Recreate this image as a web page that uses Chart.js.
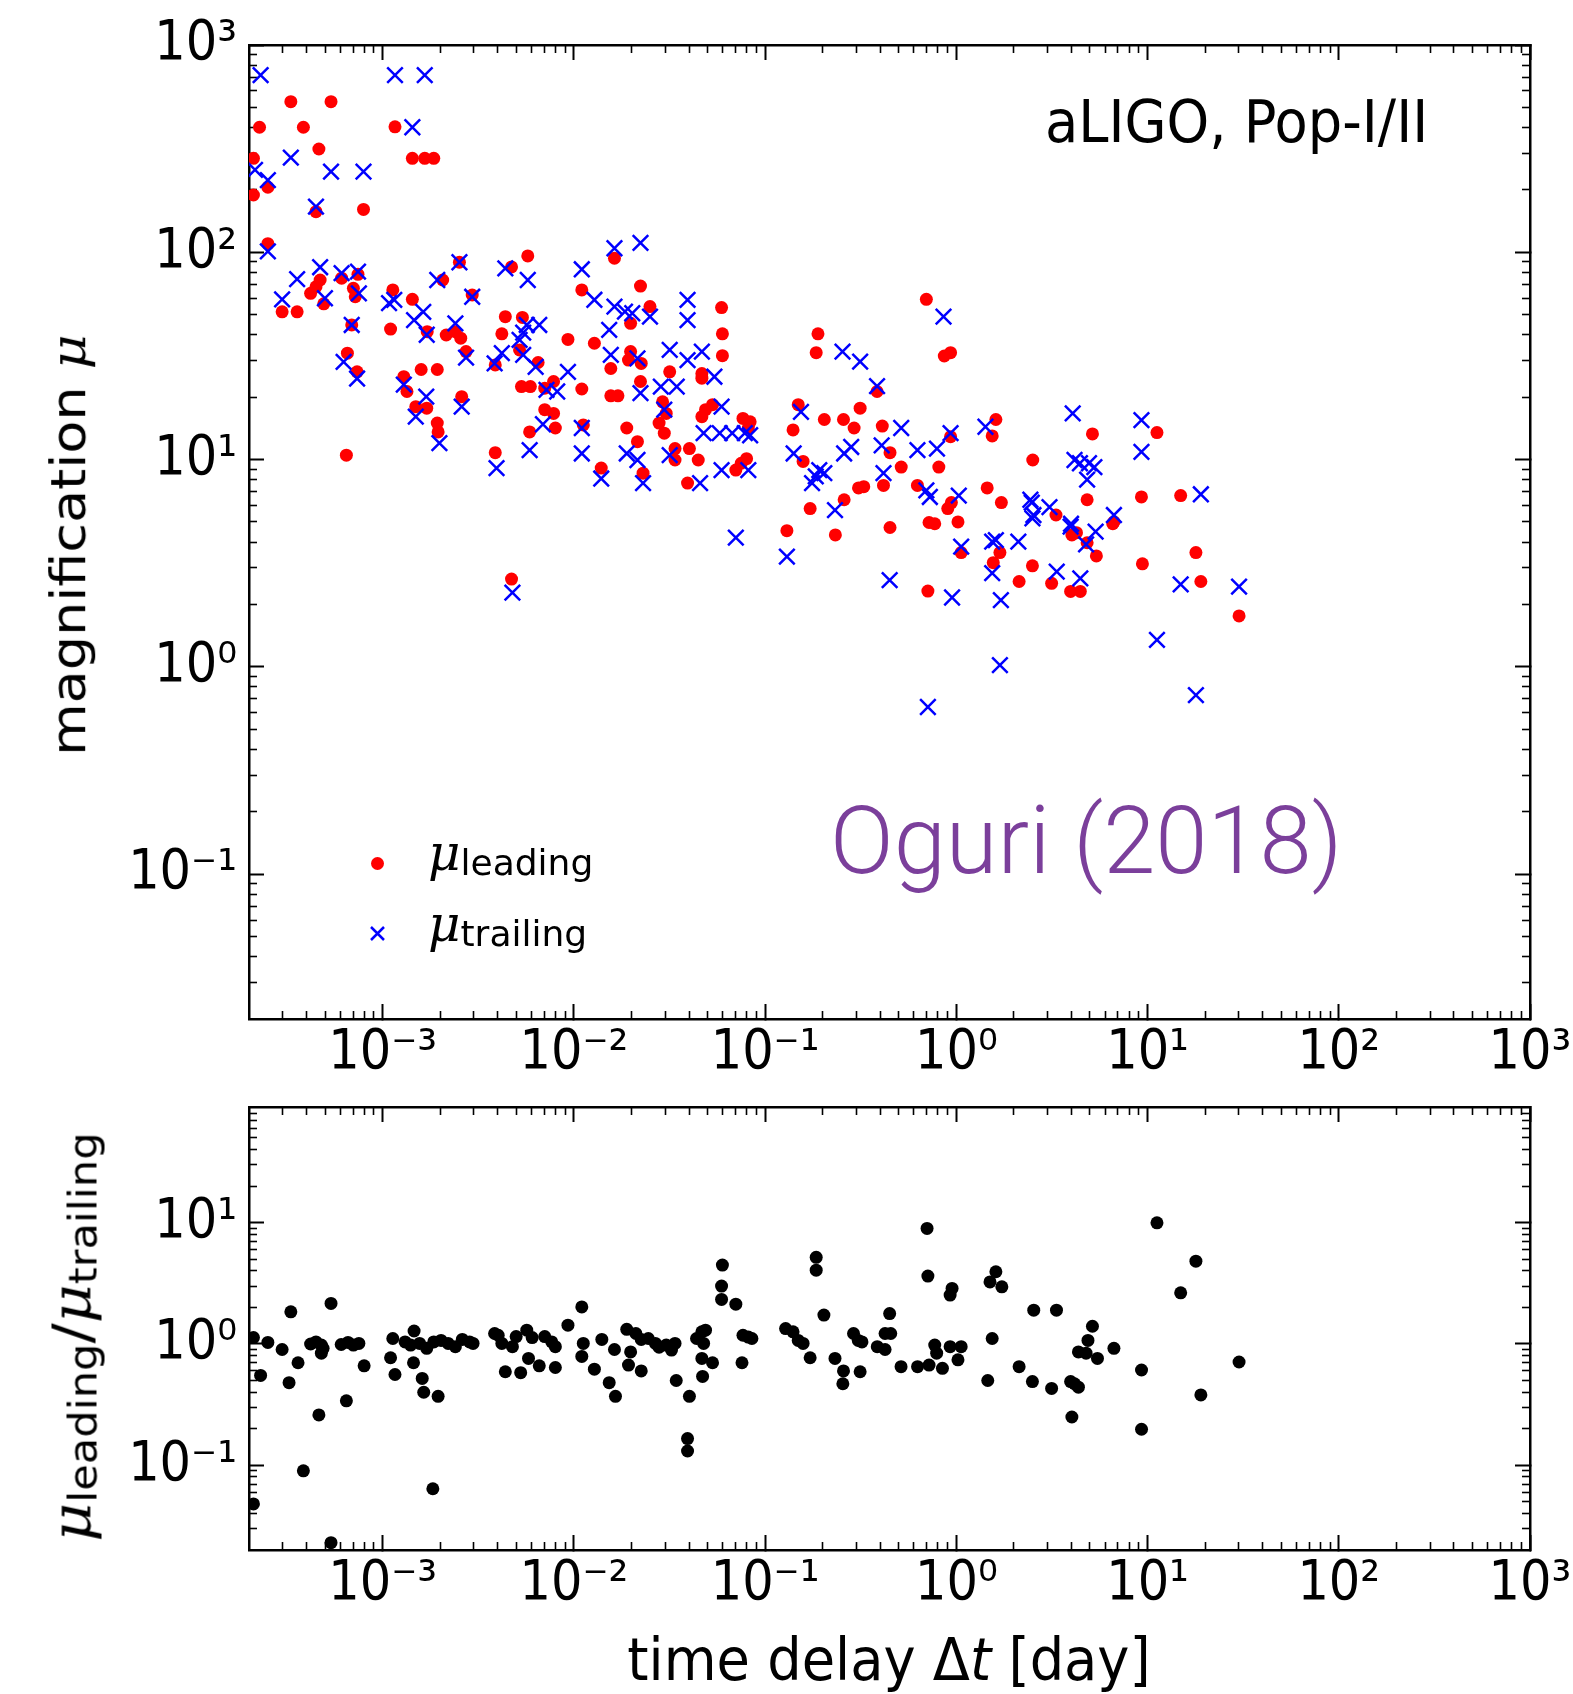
<!DOCTYPE html>
<html>
<head>
<meta charset="utf-8">
<title>magnification vs time delay</title>
<script src="https://cdn.jsdelivr.net/npm/chart.js@4.4.1/dist/chart.umd.min.js"></script>
<style>
  html, body { margin: 0; padding: 0; background: #fff; }
  #page { position: relative; width: 1573px; height: 1694px; overflow: hidden; font-family: 'DejaVu Sans', sans-serif; color: #000; }
  canvas { position: absolute; left: 0; }
  #cTop { top: 0; }
  #cBot { top: 1095px; }
  .txt { position: absolute; white-space: nowrap; line-height: 1; }
  .mu { font-family: 'DejaVu Serif', serif; font-style: italic; }
  .sub { font-family: 'DejaVu Sans', sans-serif; font-size: 0.72em; position: relative; top: 0.14em; }
  #tag { left: 1045px; top: 92px; font-size: 59px; transform: scaleX(0.92); transform-origin: left center; }
  #cite { left: 830px; top: 794px; font-family: Roboto, 'Open Sans', sans-serif; font-weight: 300; font-size: 94px; color: #7b3f9b; }
  .legRow { position: absolute; left: 428px; white-space: nowrap; line-height: 1; font-size: 50px; }
  .legMark { position: absolute; }
  .ylab { transform: translate(-50%, -50%) rotate(-90deg) scaleY(0.9); }
  #ylabTop { left: 69px; top: 545px; font-size: 54px; }
  #ylabBot { left: 72px; top: 1337px; font-size: 60px; }
  #xlab { left: 889px; top: 1630px; font-size: 59px; transform: translateX(-50%) scaleX(0.92); }
</style>
</head>
<body>
<div id="page">
  <canvas id="cTop" width="1573" height="1095"></canvas>
  <canvas id="cBot" width="1573" height="599"></canvas>

  <div class="txt" id="tag">aLIGO, Pop-I/II</div>
  <div class="txt" id="cite">Oguri (2018)</div>

  <svg class="legMark" style="left:370px; top:856px" width="15" height="15"><circle cx="7.5" cy="7.5" r="6.5" fill="#ff0000"/></svg>
  <div class="legRow" style="top:828px"><span class="mu">μ</span><span class="sub">leading</span></div>
  <svg class="legMark" style="left:369px; top:925px" width="17" height="17"><path d="M2 2 L15 15 M15 2 L2 15" stroke="#0000ff" stroke-width="2.5"/></svg>
  <div class="legRow" style="top:899px"><span class="mu">μ</span><span class="sub">trailing</span></div>

  <div class="txt ylab" id="ylabTop">magnification <span class="mu">μ</span></div>
  <div class="txt ylab" id="ylabBot"><span class="mu">μ</span><span class="sub">leading</span>/<span class="mu">μ</span><span class="sub">trailing</span></div>
  <div class="txt" id="xlab">time delay Δ<i>t</i> [day]</div>
</div>
<script>
// time delay (day) and magnification of the leading image
const leadDt = [2.27e-4, 2.11e-4, 2.51e-4, 2.11e-4, 3.31e-4, 5.37e-4, 3.85e-4, 4.64e-4, 1.16e-3, 1.43e-3,
  1.66e-3, 1.85e-3, 4.48e-4, 7.94e-4, 2.51e-4, 1.63e-2, 5.74e-3, 4.72e-3, 2.52e-3, 1.10e-2,
  2.23e-2, 2.50e-2, 1.98e-2, 5.92e-2, 5.98e-2, 5.98e-2, 1.98e-2, 1.93e-2, 2.25e-2, 1.56e-2,
  1.56e-2, 1.70e-2, 2.23e-2, 3.17e-2, 4.67e-2, 4.67e-2, 2.91e-2, 3.04e-2, 2.79e-2, 2.97e-2,
  1.89e-2, 2.15e-2, 2.30e-2, 3.38e-2, 4.02e-2, 3.38e-2, 4.47e-2, 3.93e-2, 4.67e-2, 4.88e-2,
  5.31e-2, 7.66e-2, 8.35e-2, 8.17e-2, 7.03e-2, 7.50e-2, 8.00e-2, 0.140, 0.149, 2.98e-4,
  3.57e-4, 4.71e-4, 4.48e-4, 4.20e-4, 4.92e-4, 6.10e-4, 7.43e-4, 7.03e-4, 7.19e-4, 6.89e-4,
  6.54e-4, 7.35e-4, 6.46e-4, 1.10e-3, 1.13e-3, 1.43e-3, 1.71e-3, 2.06e-3, 2.94e-3, 2.15e-3,
  2.40e-3, 2.56e-3, 2.73e-3, 1.29e-3, 1.34e-3, 1.59e-3, 1.93e-3, 1.49e-3, 1.70e-3, 1.93e-3,
  1.95e-3, 2.59e-3, 3.88e-3, 4.38e-3, 5.38e-3, 4.20e-3, 5.20e-3, 6.50e-3, 9.31e-3, 1.28e-2,
  1.10e-2, 5.32e-3, 5.92e-3, 7.04e-3, 7.83e-3, 7.04e-3, 7.83e-3, 8.0e-3, 5.87e-3, 3.88e-3,
  1.12e-2, 1.39e-2, 4.72e-3, 0.130, 0.697, 0.865, 0.933, 0.189, 0.185, 0.385,
  0.314, 0.204, 0.257, 0.292, 0.158, 0.410, 0.450, 0.515, 0.810, 0.933,
  0.172, 0.259, 0.308, 0.328, 0.416, 0.626, 0.942, 0.902, 1.45, 1.72,
  1.61, 1.54, 2.51, 5.15, 11.2, 4.83, 9.29, 14.9, 3.32, 6.67,
  17.9, 9.4, 19.0, 30.1, 0.71, 2.13, 3.15, 3.96, 4.45, 2.50,
  1.56, 1.69, 1.06, 1.02, 0.72, 0.771, 4.02, 4.25, 4.83, 5.40,
  6.58, 0.45, 0.233];
const leadMu = [401, 284, 206, 189, 533, 533, 401, 315, 403, 284,
  284, 284, 157, 161, 110, 93.6, 96, 85, 89.5, 65.8,
  68.7, 54.7, 45.4, 54.1, 40.4, 31.7, 33.2, 30.2, 29.1, 27.5,
  20.3, 20.3, 23.8, 26.5, 26, 24.7, 19, 16.7, 15, 13.4,
  14.2, 12.2, 8.6, 11.3, 11.3, 9.95, 9.95, 7.7, 16.1, 17.4,
  18.4, 15.8, 15.2, 14.2, 8.9, 9.6, 10.1, 13.9, 18.4, 51.6,
  51.6, 73.5, 68.2, 63.4, 56.4, 75, 78.3, 67, 61, 44.6,
  32.6, 26.5, 10.5, 42.6, 65.8, 59.3, 41.4, 73.5, 62.2, 39.9,
  41.4, 38.5, 33.2, 25.1, 21.3, 27.2, 27.2, 18, 17.7, 15,
  13.6, 20.1, 28.6, 48.9, 48.5, 40.4, 33.8, 29.4, 38, 36.4,
  21.9, 22.5, 22.5, 22.1, 23.8, 17.4, 16.7, 14.2, 13.6, 10.8,
  14.7, 9.1, 2.65, 4.54, 59.3, 31.6, 32.8, 40.4, 32.8, 21.3,
  17.7, 15.6, 15.6, 14.2, 9.8, 14.5, 10.8, 9.2, 9.2, 12.9,
  5.8, 6.4, 7.3, 7.4, 7.5, 7.5, 6.2, 5.8, 7.3, 6.2,
  15.6, 13, 9.95, 13.3, 13.5, 6.4, 6.6, 6.7, 5.4, 5.0,
  3.56, 3.14, 2.58, 1.76, 2.32, 2.58, 2.53, 2.31, 2.31, 3.07,
  3.18, 3.56, 3.56, 5.0, 4.97, 4.9, 4.33, 4.44, 3.97, 3.43,
  4.9, 4.7, 4.33];

// time delay (day) and magnification of the trailing image
const trailDt = [2.30e-4, 1.16e-3, 1.66e-3, 1.43e-3, 3.31e-4, 5.37e-4, 7.94e-4, 2.15e-4, 2.51e-4, 4.48e-4,
  2.51e-4, 1.63e-2, 2.23e-2, 4.38e-3, 5.74e-3, 2.52e-3, 1.10e-2, 1.28e-2, 1.63e-2, 1.85e-2,
  2.02e-2, 2.50e-2, 3.93e-2, 3.93e-2, 1.53e-2, 1.56e-2, 2.15e-2, 2.23e-2, 3.17e-2, 2.85e-2,
  3.45e-2, 3.93e-2, 4.67e-2, 5.43e-2, 2.97e-2, 1.89e-2, 2.15e-2, 2.30e-2, 3.17e-2, 4.57e-2,
  4.77e-2, 5.79e-2, 6.73e-2, 7.83e-2, 8.35e-2, 5.92e-2, 5.92e-2, 8.17e-2, 2.98e-4, 3.57e-4,
  4.71e-4, 4.99e-4, 6.10e-4, 7.43e-4, 7.51e-4, 6.89e-4, 6.25e-4, 7.35e-4, 1.08e-3, 1.15e-3,
  1.63e-3, 1.46e-3, 1.70e-3, 1.93e-3, 2.94e-3, 2.40e-3, 2.73e-3, 1.29e-3, 1.69e-3, 1.49e-3,
  1.98e-3, 2.59e-3, 3.85e-3, 4.20e-3, 5.43e-3, 5.67e-3, 6.59e-3, 5.20e-3, 5.43e-3, 6.31e-3,
  7.19e-3, 8.18e-3, 9.31e-3, 6.89e-3, 5.87e-3, 3.94e-3, 1.10e-2, 1.10e-2, 1.39e-2, 4.77e-3,
  7.03e-2, 0.130, 0.857, 0.254, 0.314, 0.385, 0.154, 0.141, 0.515, 0.407,
  0.626, 0.792, 0.933, 0.282, 0.259, 0.192, 0.204, 0.176, 0.184, 0.232,
  0.416, 0.697, 0.727, 1.03, 1.42, 4.06, 9.29, 9.29, 4.15, 4.43,
  4.94, 5.27, 4.83, 19.0, 2.48, 2.53, 3.07, 3.98, 6.67, 14.9,
  30.1, 11.2, 17.9, 1.69, 0.71, 0.448, 0.95, 1.71, 4.45, 3.35,
  1.54, 1.54, 1.61, 2.11, 1.06, 2.44, 2.50, 3.96, 5.35, 4.77];
const trailMu = [716, 716, 716, 401, 286, 245, 245, 250, 223, 166,
  101, 104.6, 111, 83.7, 73.5, 89.5, 82.8, 59, 54.7, 51.7,
  50.8, 48.9, 58.9, 47.1, 42.2, 32, 30.8, 20.9, 33.8, 22.5,
  22.5, 30.2, 33.2, 25.1, 17.4, 10.7, 9.95, 7.7, 10.5, 7.7,
  13.4, 13.4, 13.4, 13.4, 13.1, 18.0, 8.9, 8.9, 59.3, 74.2,
  84.7, 60, 79.3, 80.7, 63.4, 44.6, 29.6, 24.6, 56.8, 58.9,
  51.6, 47.1, 40, 73.5, 61, 45.4, 31, 23, 20.1, 16.1,
  12, 18, 29.1, 32.6, 41, 44.6, 44.6, 37.8, 32, 28,
  21.7, 21.3, 26.5, 14.8, 11.1, 9.1, 14.2, 10.7, 8.1, 2.28,
  4.2, 3.4, 48.9, 33.2, 29.7, 22.6, 17, 10.7, 14.2, 11.7,
  11.1, 11.3, 13.4, 11.5, 10.7, 8.9, 8.6, 7.7, 8.3, 5.7,
  8.6, 7.1, 6.6, 6.7, 14.4, 16.7, 15.5, 10.9, 9.95, 9.6,
  9.6, 9.2, 8.0, 6.8, 6.2, 5.4, 5.9, 4.9, 5.4, 2.5,
  2.44, 1.35, 0.73, 1.02, 0.64, 2.62, 2.16, 2.1, 2.67, 2.88,
  2.83, 4.02, 4.09, 4.02, 3.8, 6.4, 5.2, 4.75, 4.49, 3.9];

// time delay (day) and magnification ratio leading / trailing
const ratioDt = [2.11e-4, 2.51e-4, 2.98e-4, 3.31e-4, 3.61e-4, 3.24e-4, 2.30e-4, 3.85e-4, 2.11e-4, 4.20e-4,
  4.48e-4, 4.78e-4, 4.88e-4, 4.78e-4, 5.37e-4, 4.64e-4, 6.46e-4, 5.37e-4, 6.07e-4, 6.59e-4,
  7.03e-4, 7.51e-4, 8.0e-4, 1.13e-3, 1.10e-3, 1.16e-3, 1.46e-3, 1.31e-3, 1.40e-3, 1.56e-3,
  1.70e-3, 1.45e-3, 1.61e-3, 1.64e-3, 1.95e-3, 1.83e-3, 1.85e-3, 2.02e-3, 2.20e-3, 2.40e-3,
  2.61e-3, 2.85e-3, 2.97e-3, 3.85e-3, 4.20e-3, 4.02e-3, 4.77e-3, 4.99e-3, 5.67e-3, 6.05e-3,
  7.04e-3, 7.66e-3, 8.0e-3, 4.38e-3, 5.27e-3, 5.79e-3, 6.59e-3, 8.0e-3, 9.31e-3, 1.10e-2,
  1.12e-2, 1.10e-2, 1.28e-2, 1.40e-2, 1.63e-2, 1.53e-2, 1.65e-2, 1.89e-2, 2.11e-2, 2.25e-2,
  2.45e-2, 2.67e-2, 2.79e-2, 3.04e-2, 3.24e-2, 3.38e-2, 1.98e-2, 1.93e-2, 2.25e-2, 3.43e-2,
  4.02e-2, 3.93e-2, 3.93e-2, 4.38e-2, 4.67e-2, 4.77e-2, 4.88e-2, 4.67e-2, 5.31e-2, 4.71e-2,
  5.98e-2, 5.92e-2, 5.92e-2, 7.03e-2, 7.66e-2, 8.17e-2, 8.53e-2, 7.57e-2, 0.128, 0.140,
  0.149, 0.158, 0.172, 0.185, 0.185, 0.203, 0.232, 0.257, 0.255, 0.314,
  0.290, 0.307, 0.321, 0.448, 0.424, 0.454, 0.386, 0.424, 0.514, 0.627,
  0.72, 0.846, 0.771, 0.789, 0.928, 1.06, 1.02, 0.703, 0.71, 0.95,
  0.928, 1.54, 1.46, 1.61, 1.50, 1.73, 2.13, 2.50, 2.54, 3.34,
  3.15, 3.96, 4.35, 4.15, 4.02, 4.35, 4.88, 4.77, 5.47, 5.15,
  6.67, 9.30, 9.30, 11.2, 17.9, 14.9, 19.0, 30.1];
const ratioVal = [1.13, 1.03, 0.90, 1.84, 0.70, 0.48, 0.55, 0.090, 0.048, 1.0,
  1.04, 0.98, 0.92, 0.84, 2.16, 0.26, 0.34, 0.023, 0.99, 1.03,
  0.98, 1.01, 0.66, 1.11, 0.77, 0.56, 1.28, 1.04, 0.98, 1.01,
  0.92, 0.70, 0.52, 0.40, 0.37, 0.064, 1.04, 1.07, 1.01, 0.95,
  1.09, 1.04, 1.01, 1.22, 1.01, 1.18, 0.95, 1.15, 1.30, 1.13,
  1.15, 1.04, 0.95, 0.59, 0.58, 0.76, 0.66, 0.64, 1.43, 2.02,
  1.01, 0.79, 0.62, 1.09, 0.90, 0.48, 0.37, 1.32, 1.22, 1.09,
  1.11, 1.01, 0.94, 0.98, 0.89, 1.01, 0.86, 0.67, 0.60, 0.50,
  0.37, 0.166, 0.131, 1.11, 1.26, 1.01, 1.30, 0.76, 0.70, 0.54,
  4.47, 3.0, 2.33, 2.13, 1.18, 1.14, 1.11, 0.70, 1.34, 1.26,
  1.07, 1.01, 0.77, 5.18, 4.06, 1.73, 0.76, 0.60, 0.47, 0.59,
  1.22, 1.07, 1.04, 1.78, 1.22, 1.22, 0.95, 0.90, 0.65, 0.65,
  0.67, 0.63, 0.98, 0.84, 0.95, 0.95, 0.74, 8.97, 3.63, 2.87,
  2.53, 1.11, 0.50, 3.94, 3.25, 2.96, 0.65, 0.49, 1.90, 1.90,
  0.43, 0.49, 0.44, 0.47, 0.25, 0.86, 1.07, 0.84, 0.76, 1.40,
  0.92, 0.61, 0.198, 9.98, 4.82, 2.64, 0.38, 0.71];

// axis ranges and labelled ticks
const xRange = [2e-4, 1e3];
const muRange = [2e-2, 1e3];
const ratioRange = [2e-2, 90];
const xTickVals = [1e-3, 1e-2, 1e-1, 1, 10, 100, 1000];
const xTickText = ['10⁻³', '10⁻²', '10⁻¹', '10⁰', '10¹', '10²', '10³'];
const muTickVals = [1e-1, 1, 10, 100, 1000];
const muTickText = ['10⁻¹', '10⁰', '10¹', '10²', '10³'];
const ratioTickVals = [1e-1, 1, 10];
const ratioTickText = ['10⁻¹', '10⁰', '10¹'];

const tickFont = { family: "'DejaVu Sans Condensed', 'DejaVu Sans', sans-serif", size: 55 };

function minorTicks(range) {
  const out = [];
  const e0 = Math.floor(Math.log10(range[0]));
  const e1 = Math.ceil(Math.log10(range[1]));
  for (let e = e0; e < e1; e++) {
    for (let m = 2; m <= 9; m++) {
      const v = m * Math.pow(10, e);
      if (v > range[0] * 1.001 && v < range[1] * 0.999) out.push(v);
    }
  }
  return out;
}

function pairs(xs, ys) {
  return xs.map((x, i) => ({ x: x, y: ys[i] }));
}

// one log axis; several share each side so that the frame gets major + minor inward ticks.
// size = room for the tick labels (0 for the unlabelled ones)
function logAxis(position, range, values, major, labels, size, pad) {
  return {
    type: 'logarithmic',
    position: position,
    weight: labels ? 1 : 0,
    min: range[0],
    max: range[1],
    afterFit: s => {
      if (s.isHorizontal()) s.height = size || 0; else s.width = size || 0;
      s.paddingLeft = s.paddingRight = s.paddingTop = s.paddingBottom = 0;
    },
    afterBuildTicks: s => { s.ticks = values.map(v => ({ value: v })); },
    grid: {
      display: true,
      drawOnChartArea: false,
      drawTicks: true,
      tickLength: major ? -15 : -8,
      tickWidth: major ? 2 : 1.6,
      tickColor: '#000',
      color: '#000'
    },
    border: { display: major, color: '#000', width: 2.5 },
    ticks: labels ? {
      display: true,
      autoSkip: false,
      maxRotation: 0,
      minRotation: 0,
      color: '#000',
      padding: pad,
      font: tickFont,
      callback: v => labels[values.indexOf(v)]
    } : { display: false }
  };
}

function panelScales(yRange, yVals, yText, xLabelRoom) {
  const xMinor = minorTicks(xRange);
  const yMinor = minorTicks(yRange);
  return {
    x: logAxis('bottom', xRange, xTickVals, true, xTickText, xLabelRoom, 17),
    xMinor: logAxis('bottom', xRange, xMinor, false),
    xTop: logAxis('top', xRange, xTickVals, true),
    xTopMinor: logAxis('top', xRange, xMinor, false),
    y: logAxis('left', yRange, yVals, true, yText, 200, 27),
    yMinor: logAxis('left', yRange, yMinor, false),
    yRight: logAxis('right', yRange, yVals, true),
    yRightMinor: logAxis('right', yRange, yMinor, false)
  };
}

function baseOptions(padding, scales) {
  return {
    responsive: false,
    animation: false,
    devicePixelRatio: 1,
    events: [],
    layout: { padding: padding },
    plugins: { legend: { display: false }, tooltip: { enabled: false } },
    scales: scales
  };
}

new Chart(document.getElementById('cTop'), {
  type: 'scatter',
  data: {
    datasets: [
      {
        label: 'μ trailing',
        data: pairs(trailDt, trailMu),
        pointStyle: 'crossRot',
        pointRadius: 11,
        pointBorderColor: '#0000ff',
        pointBackgroundColor: '#0000ff',
        pointBorderWidth: 2.5,
        order: 0
      },
      {
        label: 'μ leading',
        data: pairs(leadDt, leadMu),
        pointStyle: 'circle',
        pointRadius: 6.5,
        pointBackgroundColor: '#ff0000',
        pointBorderWidth: 0,
        order: 1
      }
    ]
  },
  options: baseOptions({ left: 49, right: 43, top: 45, bottom: 6 }, panelScales(muRange, muTickVals, muTickText, 70))
});

new Chart(document.getElementById('cBot'), {
  type: 'scatter',
  data: {
    datasets: [
      {
        label: 'μ leading / μ trailing',
        data: pairs(ratioDt, ratioVal),
        pointStyle: 'circle',
        pointRadius: 6.5,
        pointBackgroundColor: '#000000',
        pointBorderWidth: 0
      }
    ]
  },
  options: baseOptions({ left: 49, right: 43, top: 12, bottom: 44 }, panelScales(ratioRange, ratioTickVals, ratioTickText, 100))
});
</script>
</body>
</html>
